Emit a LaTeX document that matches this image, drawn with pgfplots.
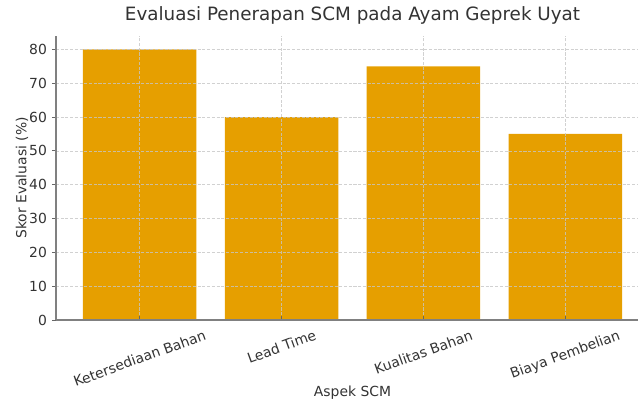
\documentclass[border=0pt]{standalone}
\usepackage{pgfplots}
\pgfplotsset{compat=1.18}
\usepackage{graphicx}
\usepackage{fontspec}
\setmainfont{DejaVu Sans}
\definecolor{barcol}{HTML}{E69F00}
\definecolor{txt}{HTML}{333333}
\begin{document}
\begin{tikzpicture}
\useasboundingbox (0,0) rectangle (459.36pt,290.16pt);
\clip (0,0) rectangle (459.36pt,290.16pt);
\begin{axis}[
  at={(40.3pt,59.8pt)}, anchor=south west,
  scale only axis,
  width=427pt, height=204.5pt,
  xmin=-0.59, xmax=3.59,
  ymin=0, ymax=84,
  axis x line*=bottom, axis y line*=left,
  axis line style={gray, line width=1pt, -},
  axis on top,
  xtick={0,1,2,3},
  xticklabels={\rotatebox{20}{Ketersediaan Bahan},\rotatebox{20}{Lead Time},\rotatebox{20}{Kualitas Bahan},\rotatebox{20}{Biaya Pembelian}},
  xticklabel style={anchor=north, inner sep=0pt, yshift=-3.5pt, font=\fontsize{10}{12}\selectfont, text=txt},
  ytick={0,10,20,30,40,50,60,70,80},
  yticklabel style={font=\fontsize{10}{12}\selectfont, text=txt},
  /pgf/number format/assume math mode=true,
  tick align=outside,
  major tick length=3pt,
  tick style={gray!80!black, line width=0.6pt},
  x tick style={yshift=3pt},
  grid=major,
  major grid style={gray!45, opacity=0.8, line width=0.5pt, dash pattern=on 2.2pt off 1.2pt},
  title={Evaluasi Penerapan SCM pada Ayam Geprek Uyat},
  title style={at={(axis description cs:0.5,1.0245)}, anchor=base, font=\fontsize{13.2}{15}\selectfont, text=txt},
  xlabel={Aspek SCM},
  xlabel style={at={(axis description cs:0.5,-0.257)}, anchor=center, font=\fontsize{10}{12}\selectfont, text=txt},
  ylabel={Skor Evaluasi (\%)},
  ylabel style={at={(axis description cs:-0.0574,0.5)}, anchor=center, font=\fontsize{10}{12}\selectfont, text=txt},
]
\addplot[ybar, bar width=0.8, fill=barcol, draw=none] coordinates {(0,80) (1,60) (2,75) (3,55)};
\end{axis}
\end{tikzpicture}
\end{document}
